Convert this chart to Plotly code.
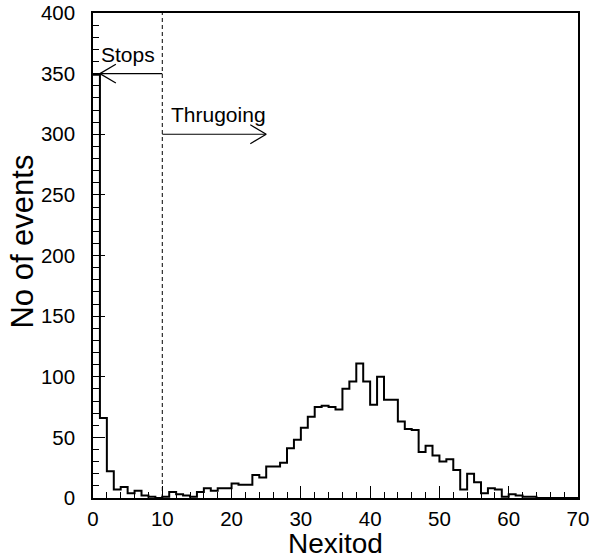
import plotly.graph_objects as go

# ---- data ----
counts = [349, 66, 22, 7, 9, 4, 6, 2, 1, 0,
          1, 5, 3, 2, 1, 5, 8, 6, 8, 8,
          12, 11, 11, 19, 17, 26, 26, 29, 41, 48,
          58, 67, 75, 76, 75, 73, 90, 96, 111, 96,
          77, 100, 81, 81, 63, 57, 56, 38, 43, 35,
          30, 32, 23, 7, 20, 13, 4, 8, 7, 1,
          3, 2, 1, 1, 0, 0, 0, 0, 0, 0]
bin_start = 0
bin_width = 1
x_range = [0, 70]
y_range = [0, 400]
x_ticks = [0, 10, 20, 30, 40, 50, 60, 70]
y_ticks = [0, 50, 100, 150, 200, 250, 300, 350, 400]

cut_value = 10
stops_label = "Stops"
stops_arrow = dict(y=350, x_from=10, x_to=1, text_x=5, text_y=366)
thru_label = "Thrugoing"
thru_arrow = dict(y=300, x_from=10, x_to=25, text_x=18.1, text_y=316)
head_dx = 2.3
head_dy = 7.8

FONT = "Liberation Sans, Arial, Helvetica, sans-serif"

edges = [bin_start + i * bin_width for i in range(len(counts) + 1)]
step_y = counts + [counts[-1]]

fig = go.Figure()
fig.add_trace(go.Scatter(
    x=edges, y=step_y, mode="lines",
    line=dict(shape="hv", color="black", width=2),
    hoverinfo="skip", showlegend=False,
))

shapes = []
# dashed cut line
shapes.append(dict(type="line", xref="x", yref="y", x0=cut_value, x1=cut_value,
                   y0=y_range[0], y1=y_range[1],
                   line=dict(color="black", width=1, dash="4px,3px")))


def arrow(a):
    d = 1 if a["x_to"] > a["x_from"] else -1
    s = [dict(type="line", xref="x", yref="y", x0=a["x_from"], x1=a["x_to"],
              y0=a["y"], y1=a["y"], line=dict(color="black", width=1.2))]
    for sgn in (1, -1):
        s.append(dict(type="line", xref="x", yref="y", x0=a["x_to"],
                      x1=a["x_to"] - d * head_dx, y0=a["y"],
                      y1=a["y"] + sgn * head_dy,
                      line=dict(color="black", width=1.2)))
    return s


shapes += arrow(stops_arrow)
shapes += arrow(thru_arrow)

annotations = [
    dict(x=stops_arrow["text_x"], y=stops_arrow["text_y"], xref="x", yref="y",
         text=stops_label, showarrow=False, font=dict(size=21, color="black", family=FONT),
         xanchor="center", yanchor="middle"),
    dict(x=thru_arrow["text_x"], y=thru_arrow["text_y"], xref="x", yref="y",
         text=thru_label, showarrow=False, font=dict(size=21, color="black", family=FONT),
         xanchor="center", yanchor="middle"),
    dict(x=0.5, y=-0.094, xref="paper", yref="paper", text="Nexitod",
         showarrow=False, font=dict(size=28, color="black", family=FONT),
         xanchor="center", yanchor="middle"),
    dict(x=-0.145, y=0.528, xref="paper", yref="paper", text="No of events",
         showarrow=False, textangle=-90, font=dict(size=31, color="black", family=FONT),
         xanchor="center", yanchor="middle"),
]

axis_common = dict(showline=True, mirror=True, linecolor="black", linewidth=1.5,
                   showgrid=False, zeroline=False, ticks="inside", ticklen=12,
                   tickwidth=1, tickcolor="black", automargin=False,
                   tickfont=dict(size=20.5, color="black", family=FONT))

fig.update_layout(
    width=592, height=558,
    margin=dict(l=93, r=14, t=13, b=60, autoexpand=False),
    paper_bgcolor="white", plot_bgcolor="white",
    xaxis=dict(range=x_range, tickmode="array", tickvals=x_ticks,
               minor=dict(dtick=2, ticks="inside", ticklen=6, tickcolor="black"),
               ticklabelstandoff=2, **axis_common),
    yaxis=dict(range=y_range, tickmode="array", tickvals=y_ticks,
               minor=dict(dtick=10, ticks="inside", ticklen=6, tickcolor="black"),
               ticklabelstandoff=12, **axis_common),
    shapes=shapes, annotations=annotations,
)

fig.write_html("out.html")
